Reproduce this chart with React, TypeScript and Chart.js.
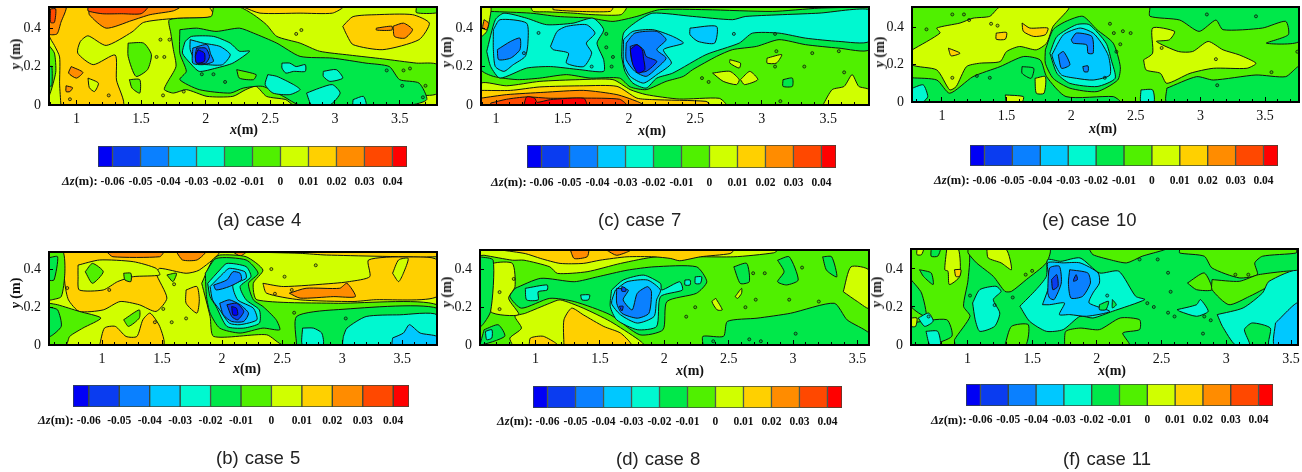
import React, { useEffect, useRef } from "react";
import { Chart, registerables } from "chart.js";

Chart.register(...registerables);

const bandEdges = [-0.0652, -0.06, -0.05, -0.04, -0.03, -0.02, -0.01, 0, 0.01, 0.02, 0.03, 0.04, 0.0452];
const bandColors = ["#0000f5", "#0a3cf0", "#0a80ff", "#00c8ff", "#00f8d0", "#00e84a", "#50f000", "#d0ff00", "#ffd000", "#ff8c00", "#ff4800", "#ff0000"];

const case4Contours: [number, number[]][] = [
  [7, [0.788, 0, 3.789, 0, 3.789, 0.51, 0.788, 0.51]],
  [8, [0.88, 0, 1.36, 0, 1.31, 0.13, 1.3, 0.26, 1.13, 0.21, 1.01, 0.27, 1.03, 0.33, 1.09, 0.36, 1.23, 0.31, 1.43, 0.38, 1.52, 0.43, 1.75, 0.45, 2.06, 0.46, 2.02, 0.51, 0.79, 0.51, 0.79, 0.36, 0.83, 0.31, 0.87, 0.25, 0.87, 0.11]],
  [9, [1.1, 0.51, 1.1, 0.47, 1.23, 0.4, 1.43, 0.44, 1.57, 0.47, 1.75, 0.49, 1.8, 0.51]],
  [10, [1.09, 0.51, 1.09, 0.49, 1.2, 0.475, 1.35, 0.475, 1.5, 0.475, 1.55, 0.51]],
  [9, [0.79, 0.51, 0.92, 0.51, 0.88, 0.43, 0.85, 0.37, 0.79, 0.37]],
  [10, [0.8, 0.5, 0.84, 0.5, 0.83, 0.43, 0.8, 0.43]],
  [9, [0.96, 0.2, 1.05, 0.17, 1, 0.14, 0.94, 0.166]],
  [9, [0.92, 0.1, 0.97, 0.09, 0.95, 0.07, 0.92, 0.07]],
  [7, [1.09, 0.14, 1.17, 0.114, 1.14, 0.07, 1.1, 0.09]],
  [6, [2.06, 0.51, 2.26, 0.51, 2.37, 0.47, 2.47, 0.418, 2.55, 0.357, 2.73, 0.322, 2.88, 0.28, 3.11, 0.26, 3.37, 0.24, 3.63, 0.218, 3.789, 0.21, 3.789, 0.06, 3.6, 0.045, 3.56, 0, 2.68, 0, 2.62, 0.028, 2.47, 0.045, 2.39, 0.097, 2.31, 0.08, 2.21, 0.045, 2.01, 0.045, 1.85, 0.08, 1.75, 0.062, 1.68, 0.08, 1.7, 0.114, 1.77, 0.2, 1.75, 0.288, 1.73, 0.374, 1.72, 0.444, 2.04, 0.46]],
  [5, [1.8, 0.392, 1.93, 0.4, 2.08, 0.383, 2.26, 0.4, 2.37, 0.374, 2.55, 0.322, 2.73, 0.253, 2.98, 0.244, 3.24, 0.218, 3.42, 0.2, 3.5, 0.132, 3.65, 0.114, 3.71, 0.028, 3.58, 0, 2.73, 0, 2.6, 0.045, 2.44, 0.097, 2.29, 0.088, 2.19, 0.062, 1.95, 0.08, 1.8, 0.132, 1.85, 0.175, 1.8, 0.27]],
  [4, [1.84, 0.33, 1.89, 0.357, 2.06, 0.357, 2.19, 0.322, 2.26, 0.28, 2.34, 0.28, 2.21, 0.218, 2.08, 0.192, 1.95, 0.175, 1.88, 0.218, 1.82, 0.27]],
  [3, [1.88, 0.34, 1.98, 0.322, 2.11, 0.305, 2.19, 0.262, 2.13, 0.21, 2.01, 0.21, 1.93, 0.218, 1.88, 0.288]],
  [2, [1.9, 0.296, 2.01, 0.314, 2.04, 0.262, 2.06, 0.227, 1.98, 0.21, 1.9, 0.218]],
  [1, [1.93, 0.296, 2, 0.296, 2.03, 0.253, 2, 0.218, 1.93, 0.218, 1.92, 0.262]],
  [0, [1.94, 0.288, 1.99, 0.27, 1.99, 0.227, 1.93, 0.218, 1.92, 0.253]],
  [4, [2.48, 0.158, 2.55, 0.149, 2.68, 0.106, 2.73, 0.08, 2.65, 0.054, 2.52, 0.062, 2.46, 0.106]],
  [4, [2.59, 0.218, 2.65, 0.218, 2.7, 0.2, 2.77, 0.21, 2.77, 0.175, 2.68, 0.175, 2.62, 0.166, 2.59, 0.192]],
  [4, [2.91, 0.175, 3.01, 0.184, 3.06, 0.14, 2.96, 0.123, 2.91, 0.149]],
  [4, [2.78, 0.062, 2.88, 0.088, 2.98, 0.106, 3.04, 0.062, 2.96, 0, 2.82, 0]],
  [4, [3.14, 0.028, 3.22, 0.045, 3.24, 0, 3.14, 0]],
  [6, [2.24, 0.184, 2.39, 0.158, 2.37, 0.132, 2.26, 0.14]],
  [8, [2.29, 0.51, 3.06, 0.51, 2.98, 0.478, 2.73, 0.478, 2.42, 0.478]],
  [8, [3.06, 0.41, 3.14, 0.46, 3.32, 0.47, 3.6, 0.47, 3.73, 0.426, 3.65, 0.34, 3.37, 0.288, 3.14, 0.314, 3.09, 0.366]],
  [9, [3.45, 0.41, 3.53, 0.426, 3.6, 0.392, 3.54, 0.348, 3.46, 0.357]],
  [9, [3.32, 0.4, 3.44, 0.41, 3.44, 0.39, 3.32, 0.39]],
  [6, [3.63, 0.51, 3.789, 0.51, 3.789, 0.48, 3.63, 0.48]],
  [6, [1.4, 0.322, 1.52, 0.322, 1.58, 0.262, 1.55, 0.184, 1.46, 0.149, 1.4, 0.253]],
  [6, [1.41, 0.132, 1.49, 0.132, 1.49, 0.062, 1.43, 0.088]],
  [6, [0.788, 0.31, 0.83, 0.27, 0.84, 0.17, 0.788, 0.05]],
  [5, [0.788, 0.2, 0.81, 0.2, 0.81, 0.1, 0.788, 0.1]],
];
const case4Islets = [1.65, 0.34, 1.72, 0.34, 1.62, 0.25, 1.68, 0.25, 2.06, 0.16, 1.97, 0.16, 2.15, 0.12, 1.83, 0.07, 2.7, 0.37, 2.74, 0.39, 3.4, 0.18, 3.53, 0.18, 3.58, 0.19, 3.52, 0.1, 3.7, 0.1, 3.68, 0.04, 1.25, 0.05, 0.95, 0.03, 1.67, 0.05];

const case5Contours: [number, number[]][] = [
  [7, [0.558, 0, 3.79, 0, 3.79, 0.49, 0.558, 0.49]],
  [8, [0.675, 0.49, 1.97, 0.49, 1.81, 0.395, 1.7, 0.378, 1.48, 0.404, 1.45, 0.378, 1.54, 0.247, 1.45, 0.177, 1.31, 0.212, 1.15, 0.229, 1.01, 0.185, 0.81, 0.177, 0.72, 0.238, 0.69, 0.325]],
  [7, [0.8, 0.421, 0.98, 0.448, 1.26, 0.439, 1.45, 0.404, 1.48, 0.369, 1.26, 0.36, 1.13, 0.334, 1.01, 0.29, 0.81, 0.29, 0.8, 0.36]],
  [6, [0.86, 0.386, 0.92, 0.43, 1.01, 0.386, 0.92, 0.325]],
  [6, [1.18, 0.378, 1.24, 0.378, 1.24, 0.334, 1.19, 0.343]],
  [6, [1.54, 0.369, 1.62, 0.378, 1.59, 0.334]],
  [9, [1.04, 0.49, 1.51, 0.49, 1.48, 0.465, 1.09, 0.465]],
  [9, [1.62, 0.49, 1.86, 0.49, 1.79, 0.448, 1.67, 0.448]],
  [9, [2.09, 0.49, 2.2, 0.49, 2.15, 0.469]],
  [8, [0.98, 0, 1.02, 0.089, 1.11, 0.098, 1.2, 0.045, 1.29, 0.045, 1.34, 0.133, 1.4, 0.168, 1.48, 0.098, 1.51, 0]],
  [8, [1.7, 0.29, 1.79, 0.308, 1.81, 0.238, 1.79, 0.168, 1.7, 0.22]],
  [6, [0.558, 0.49, 0.675, 0.49, 0.69, 0.378, 0.66, 0.255, 0.58, 0.238, 0.558, 0.238]],
  [5, [0.558, 0.46, 0.63, 0.465, 0.6, 0.343, 0.558, 0.343]],
  [6, [0.558, 0.22, 0.63, 0.212, 0.81, 0.177, 0.99, 0.142, 0.84, 0.089, 0.73, 0.045, 0.7, 0, 0.558, 0]],
  [5, [0.558, 0.2, 0.63, 0.185, 0.66, 0.098, 0.558, 0.045]],
  [6, [1.18, 0.133, 1.31, 0.185, 1.31, 0.142, 1.22, 0.098]],
  [8, [2.34, 0.325, 2.51, 0.308, 2.93, 0.325, 3.06, 0.334, 3.23, 0.36, 3.22, 0.448, 3.54, 0.465, 3.79, 0.448, 3.79, 0.255, 3.26, 0.238, 3.09, 0.229, 2.65, 0.238, 2.37, 0.273]],
  [9, [2.56, 0.273, 2.7, 0.299, 2.98, 0.299, 3.04, 0.325, 3.11, 0.255, 2.93, 0.255, 2.65, 0.247]],
  [7, [3.42, 0.378, 3.47, 0.448, 3.55, 0.456, 3.51, 0.378, 3.47, 0.334]],
  [8, [2.2, 0.49, 3.79, 0.49, 3.79, 0.465, 2.87, 0.474, 2.65, 0.483]],
  [6, [1.83, 0.325, 1.92, 0.448, 1.98, 0.474, 2.2, 0.465, 2.34, 0.395, 2.26, 0.325, 2.29, 0.238, 2.93, 0.22, 3.79, 0.212, 3.79, 0, 2.51, 0, 2.37, 0.054, 1.93, 0.045, 1.9, 0.15]],
  [5, [1.86, 0.378, 1.95, 0.456, 2.2, 0.448, 2.3, 0.378, 2.22, 0.325, 2.26, 0.238, 2.34, 0.203, 2.45, 0.133, 2.48, 0.08, 2.34, 0.089, 2.15, 0.063, 1.98, 0.089, 1.9, 0.168, 1.87, 0.255]],
  [5, [2.62, 0, 2.62, 0.15, 2.93, 0.185, 3.79, 0.194, 3.79, 0]],
  [4, [1.88, 0.325, 1.98, 0.395, 2.04, 0.43, 2.2, 0.413, 2.24, 0.36, 2.15, 0.308, 2.2, 0.238, 2.31, 0.185, 2.31, 0.115, 2.18, 0.089, 2.04, 0.098, 1.95, 0.203, 1.9, 0.255]],
  [3, [1.9, 0.308, 2.01, 0.378, 2.06, 0.404, 2.19, 0.386, 2.2, 0.351, 2.09, 0.316, 2.13, 0.238, 2.26, 0.194, 2.29, 0.133, 2.15, 0.107, 2.06, 0.115, 1.98, 0.185, 1.92, 0.238]],
  [2, [1.93, 0.316, 2.04, 0.343, 2.09, 0.386, 2.15, 0.378, 2.16, 0.343, 2.06, 0.308, 1.95, 0.29]],
  [2, [1.98, 0.22, 2.06, 0.238, 2.15, 0.212, 2.22, 0.168, 2.18, 0.124, 2.08, 0.124, 2.01, 0.159]],
  [1, [2.04, 0.212, 2.12, 0.22, 2.18, 0.177, 2.13, 0.133, 2.08, 0.15]],
  [0, [2.08, 0.203, 2.12, 0.194, 2.13, 0.159, 2.09, 0.159]],
  [4, [3.01, 0.045, 3.04, 0.089, 3.2, 0.15, 3.48, 0.159, 3.79, 0.159, 3.79, 0, 3.01, 0]],
  [3, [3.42, 0.037, 3.51, 0.063, 3.56, 0.107, 3.65, 0.063, 3.79, 0.045, 3.79, 0, 3.42, 0]],
  [4, [2.67, 0.089, 2.76, 0.089, 2.83, 0.063, 2.84, 0, 2.67, 0]],
];
const case5Islets = [0.71, 0.3, 1.06, 0.29, 1.51, 0.19, 1.44, 0.12, 1.58, 0.12, 1.7, 0.14, 2.41, 0.4, 2.52, 0.36, 2.58, 0.29, 2.44, 0.27, 3.03, 0.14, 2.6, 0.17, 2.78, 0.42, 1.6, 0.32];

const case7Contours: [number, number[]][] = [
  [6, [0.887, 0, 3.807, 0, 3.807, 0.51, 0.887, 0.51]],
  [7, [0.89, 0, 0.89, 0.114, 1.08, 0.1, 1.33, 0.123, 1.63, 0.132, 1.88, 0.132, 2.01, 0.08, 2.13, 0.054, 2.38, 0.031, 2.68, 0.035, 2.73, 0]],
  [8, [0.89, 0.076, 1.11, 0.076, 1.33, 0.094, 1.66, 0.1, 1.91, 0.097, 2.06, 0.036, 2.18, 0.028, 2.58, 0.019, 2.61, 0, 0.89, 0]],
  [9, [0.89, 0.036, 1.08, 0.054, 1.36, 0.066, 1.66, 0.076, 1.91, 0.054, 2.06, 0.019, 2.11, 0, 0.89, 0]],
  [10, [0.96, 0.01, 1.08, 0.03, 1.23, 0.042, 1.41, 0.035, 1.66, 0.036, 1.93, 0.03, 1.98, 0, 0.96, 0]],
  [11, [1.21, 0, 1.23, 0.042, 1.29, 0.036, 1.31, 0.014, 1.41, 0.028, 1.66, 0.035, 1.68, 0]],
  [5, [0.96, 0.487, 1.26, 0.478, 1.46, 0.461, 1.71, 0.452, 1.88, 0.435, 2.06, 0.461, 2.23, 0.496, 2.58, 0.496, 3.08, 0.487, 3.43, 0.504, 3.807, 0.51, 3.807, 0.288, 3.58, 0.296, 3.33, 0.314, 3.13, 0.34, 2.96, 0.305, 2.78, 0.288, 2.66, 0.253, 2.48, 0.184, 2.41, 0.149, 2.28, 0.123, 2.13, 0.08, 2.01, 0.094, 1.93, 0.14, 1.71, 0.14, 1.53, 0.158, 1.33, 0.14, 1.16, 0.132, 0.98, 0.149, 0.887, 0.184, 0.887, 0.357, 0.92, 0.374, 0.91, 0.444]],
  [7, [1.26, 0.51, 1.98, 0.51, 1.94, 0.47, 1.73, 0.47, 1.58, 0.478, 1.38, 0.485, 1.28, 0.487]],
  [8, [1.43, 0.51, 1.88, 0.51, 1.86, 0.487, 1.63, 0.487, 1.43, 0.496]],
  [7, [0.887, 0.51, 0.96, 0.51, 0.96, 0.478, 0.93, 0.383, 0.887, 0.357]],
  [9, [0.91, 0.444, 0.945, 0.426, 0.93, 0.392, 0.9, 0.4]],
  [4, [0.93, 0.279, 0.995, 0.444, 1.06, 0.478, 1.23, 0.452, 1.38, 0.418, 1.58, 0.426, 1.73, 0.452, 1.81, 0.392, 1.76, 0.322, 1.81, 0.236, 1.81, 0.175, 1.63, 0.184, 1.41, 0.2, 1.23, 0.192, 1.03, 0.14, 0.96, 0.2]],
  [4, [1.945, 0.253, 1.96, 0.374, 2.06, 0.435, 2.18, 0.478, 2.48, 0.461, 2.78, 0.444, 2.88, 0.461, 3.43, 0.478, 3.807, 0.496, 3.807, 0.331, 3.58, 0.331, 3.33, 0.348, 3.13, 0.374, 2.93, 0.374, 2.83, 0.322, 2.58, 0.262, 2.33, 0.166, 2.21, 0.14, 2.13, 0.088, 2.03, 0.114, 1.97, 0.175]],
  [3, [0.98, 0.392, 1.03, 0.444, 1.23, 0.426, 1.24, 0.322, 1.22, 0.253, 1.13, 0.21, 1.06, 0.175, 0.995, 0.2, 0.98, 0.288]],
  [3, [1.41, 0.305, 1.46, 0.383, 1.53, 0.409, 1.68, 0.418, 1.745, 0.374, 1.68, 0.322, 1.72, 0.27, 1.66, 0.2, 1.53, 0.218, 1.545, 0.27, 1.43, 0.288]],
  [3, [1.96, 0.34, 2.03, 0.383, 2.18, 0.392, 2.33, 0.357, 2.41, 0.322, 2.26, 0.288, 2.32, 0.218, 2.21, 0.158, 2.11, 0.114, 2.01, 0.149, 1.96, 0.218]],
  [3, [2.46, 0.4, 2.66, 0.409, 2.645, 0.322, 2.52, 0.331, 2.46, 0.366]],
  [2, [1.01, 0.288, 1.11, 0.331, 1.18, 0.348, 1.18, 0.288, 1.11, 0.244, 1.02, 0.236]],
  [2, [1.98, 0.322, 2.045, 0.374, 2.21, 0.383, 2.28, 0.34, 2.21, 0.288, 2.28, 0.244, 2.21, 0.192, 2.13, 0.149, 2.045, 0.175, 1.98, 0.236]],
  [1, [2.01, 0.305, 2.06, 0.314, 2.11, 0.288, 2.13, 0.253, 2.21, 0.227, 2.13, 0.175, 2.06, 0.175, 2.02, 0.236]],
  [0, [2.01, 0.288, 2.06, 0.314, 2.1, 0.288, 2.11, 0.244, 2.12, 0.184, 2.07, 0.166, 2.03, 0.21]],
  [7, [2.76, 0.236, 2.84, 0.218, 2.83, 0.192, 2.76, 0.218]],
  [7, [2.63, 0.166, 2.76, 0.175, 2.83, 0.132, 2.81, 0.106, 2.71, 0.123]],
  [7, [2.84, 0.132, 2.91, 0.175, 2.97, 0.132, 2.87, 0.106]],
  [7, [3.04, 0.244, 3.15, 0.262, 3.11, 0.218, 3.04, 0.218]],
  [5, [3.16, 0.132, 3.23, 0.14, 3.23, 0.097, 3.16, 0.097]],
  [7, [3.46, 0, 3.53, 0.08, 3.62, 0.097, 3.68, 0.158, 3.73, 0.097, 3.807, 0.08, 3.807, 0]],
];
const case7Islets = [1.32, 0.375, 1.83, 0.37, 1.88, 0.25, 1.87, 0.2, 2.79, 0.37, 3.1, 0.37, 3.11, 0.28, 3.38, 0.27, 3.58, 0.28, 3.32, 0.2, 3.62, 0.17, 2.55, 0.14, 2.6, 0.12, 3.1, 0.2, 1.21, 0.27, 1.72, 0.2, 1.83, 0.3, 3.14, 0.02];

const case8Contours: [number, number[]][] = [
  [6, [0.568, 0, 3.59, 0, 3.59, 0.503, 0.568, 0.503]],
  [7, [0.568, 0.503, 2.88, 0.503, 2.85, 0.488, 2.54, 0.467, 1.94, 0.467, 1.66, 0.432, 1.4, 0.388, 1.17, 0.379, 1.11, 0.414, 0.91, 0.449, 0.82, 0.449, 0.6, 0.475, 0.568, 0.475]],
  [8, [0.73, 0.503, 2.54, 0.503, 2.51, 0.484, 2.28, 0.467, 2.12, 0.446, 2.05, 0.458, 1.92, 0.467, 1.71, 0.467, 1.5, 0.449, 1.37, 0.432, 1.19, 0.432, 1.04, 0.458, 0.92, 0.484]],
  [9, [1.27, 0.503, 1.41, 0.503, 1.4, 0.467, 1.3, 0.458]],
  [9, [1.55, 0.503, 1.74, 0.503, 1.63, 0.475]],
  [7, [0.63, 0.379, 0.67, 0.432, 0.82, 0.432, 0.84, 0.309, 0.79, 0.247, 0.87, 0.16, 0.65, 0.177]],
  [5, [0.568, 0.467, 0.67, 0.449, 0.65, 0.177, 0.568, 0.098]],
  [7, [0.82, 0, 0.8, 0.037, 0.89, 0.089, 0.84, 0.151, 0.92, 0.168, 1.11, 0.221, 1.19, 0.239, 1.37, 0.195, 1.58, 0.125, 1.8, 0.028, 1.84, 0]],
  [8, [1.22, 0, 1.22, 0.133, 1.28, 0.195, 1.37, 0.16, 1.53, 0.098, 1.66, 0.063, 1.74, 0]],
  [8, [0.95, 0, 0.96, 0.037, 1.06, 0.046, 1.17, 0]],
  [5, [0.84, 0.3, 1.04, 0.353, 1.3, 0.335, 1.48, 0.361, 1.71, 0.396, 1.92, 0.414, 2.25, 0.414, 2.33, 0.335, 2.25, 0.274, 2.02, 0.23, 1.99, 0.081, 1.81, 0.054, 1.58, 0.16, 1.3, 0.23, 1.11, 0.247, 0.89, 0.195, 0.8, 0.256]],
  [5, [2.3, 0, 2.3, 0.046, 2.46, 0.046, 2.49, 0.125, 2.72, 0.142, 2.98, 0.168, 3.32, 0.221, 3.42, 0.133, 3.59, 0.063, 3.59, 0]],
  [4, [1.59, 0.291, 1.68, 0.344, 1.84, 0.37, 1.97, 0.326, 1.98, 0.291, 2.12, 0.335, 2.14, 0.291, 1.97, 0.256, 1.94, 0.098, 1.79, 0.081, 1.63, 0.133, 1.58, 0.204]],
  [3, [1.62, 0.291, 1.71, 0.335, 1.87, 0.344, 1.97, 0.291, 1.94, 0.239, 1.92, 0.151, 1.79, 0.116, 1.66, 0.16, 1.59, 0.221]],
  [2, [1.63, 0.3, 1.72, 0.291, 1.68, 0.239, 1.75, 0.186, 1.79, 0.274, 1.87, 0.309, 1.9, 0.282, 1.88, 0.168, 1.79, 0.142, 1.67, 0.168, 1.63, 0.221]],
  [1, [1.67, 0.31, 1.7, 0.3, 1.7, 0.285, 1.67, 0.285]],
  [1, [1.65, 0.205, 1.68, 0.205, 1.67, 0.18]],
  [4, [0.92, 0.3, 1.09, 0.318, 1.09, 0.291, 1.02, 0.282, 1.02, 0.239, 0.93, 0.239]],
  [4, [1.35, 0.265, 1.42, 0.265, 1.41, 0.239, 1.36, 0.239]],
  [4, [2.16, 0.344, 2.2, 0.344, 2.2, 0.318, 2.16, 0.318]],
  [4, [2.24, 0.361, 2.29, 0.361, 2.28, 0.326, 2.24, 0.326]],
  [7, [3.39, 0.282, 3.45, 0.414, 3.59, 0.396, 3.59, 0.195, 3.5, 0.23]],
  [5, [2.54, 0.414, 2.64, 0.432, 2.66, 0.335, 2.59, 0.326]],
  [5, [2.88, 0.449, 2.97, 0.467, 3.04, 0.344, 2.95, 0.318, 2.88, 0.335, 2.93, 0.388]],
  [5, [3.23, 0.467, 3.3, 0.467, 3.34, 0.361, 3.26, 0.396]],
  [7, [2.4, 0.247, 2.45, 0.186, 2.41, 0.186, 2.37, 0.23]],
  [7, [2.55, 0.256, 2.6, 0.3, 2.6, 0.274, 2.57, 0.247]],
  [5, [0.6, 0.081, 0.71, 0.107, 0.76, 0.046, 0.568, 0]],
  [4, [0.61, 0.072, 0.66, 0.081, 0.66, 0.037, 0.62, 0.028]],
];
const case8Islets = [0.72, 0.28, 0.72, 0.19, 0.83, 0.35, 3.07, 0.41, 2.69, 0.38, 2.78, 0.38, 2.97, 0.24, 2.71, 0.24, 2.63, 0.2, 2.24, 0.2, 2.17, 0.15, 3.2, 0.23, 2.38, 0.02, 2.66, 0.03, 2.75, 0.02, 3.02, 0.06];

const case10Contours: [number, number[]][] = [
  [6, [0.768, 0, 3.763, 0, 3.763, 0.51, 0.768, 0.51]],
  [7, [0.77, 0.28, 0.985, 0.37, 0.96, 0.397, 1.14, 0.424, 1.24, 0.45, 1.37, 0.46, 1.45, 0.51, 1.98, 0.51, 1.86, 0.406, 1.81, 0.316, 1.73, 0.28, 1.6, 0.298, 1.5, 0.271, 1.45, 0.217, 1.29, 0.208, 1.19, 0.19, 1.11, 0.083, 1.06, 0.065, 0.96, 0.172, 0.77, 0.2]],
  [7, [2.56, 0.226, 2.63, 0.262, 2.63, 0.397, 2.8, 0.379, 2.76, 0.334, 2.66, 0.325, 2.83, 0.271, 2.94, 0.271, 3.06, 0.325, 3.175, 0.28, 3.3, 0.253, 3.43, 0.208, 3.36, 0.181, 3.1, 0.181, 2.92, 0.154, 2.74, 0.1, 2.69, 0.154, 2.58, 0.172]],
  [5, [2.61, 0.51, 3.763, 0.51, 3.763, 0.325, 3.51, 0.316, 3.68, 0.361, 3.66, 0.433, 3.48, 0.397, 3.175, 0.388, 3.12, 0.44, 2.99, 0.379, 2.84, 0.44, 2.61, 0.46]],
  [5, [2.74, 0.074, 2.97, 0.136, 3.1, 0.118, 3.43, 0.145, 3.66, 0.136, 3.763, 0.19, 3.763, 0, 2.74, 0]],
  [5, [0.77, 0.13, 0.96, 0.118, 1.06, 0.047, 1.24, 0.136, 1.45, 0.19, 1.63, 0.244, 1.76, 0.226, 1.81, 0.136, 1.96, 0.029, 2.325, 0.029, 2.38, 0, 0.77, 0]],
  [5, [1.8, 0.28, 1.86, 0.388, 1.96, 0.433, 2.09, 0.46, 2.2, 0.388, 2.325, 0.316, 2.38, 0.19, 2.36, 0.118, 2.2, 0.056, 1.99, 0.074, 1.86, 0.127, 1.8, 0.208]],
  [4, [1.835, 0.262, 1.89, 0.352, 2.04, 0.415, 2.14, 0.415, 2.27, 0.316, 2.31, 0.226, 2.34, 0.127, 2.2, 0.083, 1.99, 0.1, 1.89, 0.154]],
  [3, [1.85, 0.253, 1.94, 0.361, 2.07, 0.397, 2.17, 0.37, 2.235, 0.316, 2.29, 0.244, 2.3, 0.145, 2.17, 0.118, 2.04, 0.127, 1.925, 0.145, 1.87, 0.208]],
  [2, [2, 0.334, 2.04, 0.37, 2.16, 0.352, 2.17, 0.262, 2.13, 0.262, 2.12, 0.307, 2.015, 0.316]],
  [2, [1.9, 0.253, 1.94, 0.271, 1.99, 0.2, 1.925, 0.181]],
  [2, [2.09, 0.19, 2.13, 0.194, 2.13, 0.163, 2.1, 0.163]],
  [4, [0.77, 0.074, 0.855, 0.092, 0.89, 0.029, 0.855, 0.002, 0.77, 0]],
  [4, [2.54, 0.065, 2.63, 0.065, 2.64, 0, 2.54, 0]],
  [8, [1.62, 0.424, 1.68, 0.397, 1.82, 0.397, 1.8, 0.361, 1.71, 0.352, 1.63, 0.379]],
  [8, [1.42, 0.37, 1.5, 0.373, 1.49, 0.337, 1.42, 0.337]],
  [8, [1.05, 0.289, 1.14, 0.262, 1.07, 0.248]],
  [7, [1.72, 0.127, 1.8, 0.136, 1.79, 0.047, 1.73, 0.047]],
  [7, [1.49, 0.038, 1.63, 0.029, 1.62, 0, 1.5, 0]],
  [5, [1.62, 0.19, 1.71, 0.181, 1.69, 0.127, 1.62, 0.154]],
];
const case10Islets = [1.17, 0.47, 1.38, 0.42, 1.43, 0.41, 1.21, 0.44, 0.88, 0.39, 1.08, 0.13, 1.27, 0.14, 1.37, 0.13, 2.4, 0.38, 2.33, 0.37, 2.46, 0.37, 2.38, 0.31, 2.35, 0.27, 2.7, 0.29, 3.12, 0.23, 3.75, 0.27, 3.55, 0.16, 3.13, 0.09, 2.26, 0.13, 2.3, 0.42, 3.05, 0.47, 3.43, 0.46, 1.08, 0.47];

const case11Contours: [number, number[]][] = [
  [5, [0.564, 0, 3.554, 0, 3.554, 0.505, 0.564, 0.505]],
  [6, [0.564, 0.505, 1, 0.505, 1.005, 0.344, 0.97, 0.204, 1.02, 0.151, 0.9, 0.028, 0.9, 0, 0.564, 0]],
  [5, [0.564, 0.344, 0.645, 0.274, 0.68, 0.151, 0.564, 0.204]],
  [5, [0.63, 0.396, 0.72, 0.379, 0.735, 0.318, 0.66, 0.361]],
  [5, [0.72, 0.505, 0.79, 0.505, 0.77, 0.467, 0.72, 0.467]],
  [5, [0.564, 0.116, 0.84, 0.133, 0.88, 0.046, 0.71, 0, 0.564, 0]],
  [6, [1.005, 0.505, 1.635, 0.505, 1.61, 0.432, 1.455, 0.344, 1.34, 0.282, 1.29, 0.282, 1.2, 0.361, 1.07, 0.432, 1.005, 0.484]],
  [7, [1.15, 0.502, 1.3, 0.502, 1.34, 0.396, 1.26, 0.432, 1.16, 0.458]],
  [7, [0.84, 0.505, 0.93, 0.505, 0.94, 0.361, 0.86, 0.318, 0.85, 0.388, 0.825, 0.396]],
  [8, [0.9, 0.396, 0.95, 0.396, 0.94, 0.361, 0.91, 0.361]],
  [7, [0.564, 0.142, 0.61, 0.142, 0.6, 0.098, 0.564, 0.098]],
  [7, [0.61, 0.505, 0.66, 0.505, 0.645, 0.475, 0.61, 0.475]],
  [6, [1.94, 0.505, 2.53, 0.505, 2.35, 0.467, 2.23, 0.432, 2.1, 0.449, 1.97, 0.475]],
  [6, [2.64, 0.505, 3.54, 0.505, 3.54, 0.484, 3.28, 0.467, 3.22, 0.432, 3.24, 0.37, 3.1, 0.353, 2.89, 0.405, 2.83, 0.467, 2.64, 0.484]],
  [6, [2.7, 0.326, 2.83, 0.379, 2.89, 0.291, 2.77, 0.291]],
  [6, [2.89, 0.344, 3.1, 0.335, 3.25, 0.37, 3.54, 0.388, 3.28, 0.291, 3.18, 0.256, 3.02, 0.212, 2.89, 0.291]],
  [6, [1.75, 0, 1.76, 0.072, 1.87, 0.089, 2.02, 0.081, 2.18, 0.142, 2.33, 0.133, 2.33, 0.081, 2.2, 0.063, 2.25, 0]],
  [6, [1.29, 0, 1.34, 0.098, 1.47, 0.107, 1.45, 0]],
  [4, [1.405, 0.204, 1.53, 0.291, 1.61, 0.361, 1.62, 0.449, 1.72, 0.44, 1.87, 0.458, 2.02, 0.379, 2.17, 0.388, 2.3, 0.256, 2.37, 0.239, 2.12, 0.177, 1.97, 0.142, 1.87, 0.151, 1.74, 0.081, 1.61, 0.072, 1.48, 0.125]],
  [4, [1.04, 0.221, 1.095, 0.291, 1.22, 0.309, 1.26, 0.282, 1.2, 0.239, 1.25, 0.168, 1.21, 0.098, 1.095, 0.072, 1.06, 0.133]],
  [4, [2.62, 0.186, 2.77, 0.212, 2.8, 0.239, 2.86, 0.177, 2.77, 0.151, 2.64, 0.177]],
  [4, [2.93, 0.16, 3.13, 0.195, 3.28, 0.274, 3.33, 0.335, 3.554, 0.388, 3.554, 0, 3.33, 0, 3.34, 0.089, 3.2, 0.116, 3.14, 0.081, 3.18, 0, 3.07, 0, 2.97, 0.098]],
  [4, [0.62, 0.142, 0.7, 0.168, 0.735, 0.125, 0.67, 0.098]],
  [4, [0.68, 0.072, 0.77, 0.072, 0.79, 0, 0.71, 0]],
  [3, [1.58, 0.212, 1.635, 0.326, 1.62, 0.432, 1.74, 0.432, 1.87, 0.432, 2.01, 0.379, 2.02, 0.326, 1.97, 0.274, 1.94, 0.221, 2.1, 0.177, 1.92, 0.151, 1.79, 0.16, 1.71, 0.16, 1.75, 0.221, 1.635, 0.212]],
  [3, [3.38, 0.116, 3.554, 0.221, 3.554, 0, 3.37, 0]],
  [2, [1.62, 0.274, 1.635, 0.405, 1.71, 0.414, 1.725, 0.326, 1.67, 0.239, 1.635, 0.247]],
  [2, [1.79, 0.396, 1.93, 0.379, 1.95, 0.326, 1.89, 0.256, 1.8, 0.247, 1.78, 0.326]],
  [1, [1.65, 0.344, 1.69, 0.37, 1.7, 0.309, 1.66, 0.291]],
  [1, [1.82, 0.344, 1.84, 0.37, 1.85, 0.344, 1.82, 0.335]],
  [5, [2.02, 0.212, 2.09, 0.23, 2.07, 0.186, 2.02, 0.186]],
  [5, [2.12, 0.239, 2.15, 0.212, 2.12, 0.195]],
];
const case11Islets = [0.7, 0.15, 1.35, 0.25, 1.21, 0.21, 1.5, 0.39, 1.45, 0.37, 2.33, 0.45, 2.47, 0.45, 2.55, 0.38, 2.57, 0.28, 2.44, 0.2, 2.39, 0.22, 2.55, 0.17, 2.6, 0.15, 2.83, 0.15, 2.88, 0.13, 2.82, 0.06, 3.17, 0.37, 3.07, 0.37, 2.08, 0.26, 1.02, 0.26];

const axisFont = "'Liberation Serif'";

function toPoints(flat: number[]) {
  const out: { x: number; y: number }[] = [];
  for (let i = 0; i < flat.length; i += 2) out.push({ x: flat[i], y: flat[i + 1] });
  return out;
}
function closed(flat: number[]) {
  const p = toPoints(flat);
  p.push(p[0]);
  return p;
}
const shortNum = (v: number) => String(Math.round(v * 10) / 10);
const barNum = (v: number) => {
  const r = Math.round(v * 100);
  return r === 0 ? "0" : (r / 100).toFixed(2);
};

const framePlugin = {
  id: "frame",
  afterDraw(chart: any) {
    const { ctx, chartArea: a } = chart;
    ctx.save();
    ctx.strokeStyle = "#000";
    ctx.lineWidth = 2;
    ctx.strokeRect(a.left, a.top, a.right - a.left, a.bottom - a.top);
    ctx.restore();
  },
};

const LEFT = 45, TOPP = 4, RIGHTP = 4, BOTTOM = 28;

function noPad(s: any) {
  s.paddingTop = 0;
  s.paddingBottom = 0;
  s.paddingLeft = 0;
  s.paddingRight = 0;
}

function Plot({ p }: { p: any }) {
  const ref = useRef<HTMLCanvasElement>(null);
  useEffect(() => {
    const layers = p.layers as [number, number[]][];
    const datasets: any[] = layers.map(([level, flat], i) => ({
      data: closed(flat),
      showLine: true,
      fill: "shape",
      backgroundColor: bandColors[level],
      borderColor: "#101510",
      borderWidth: i === 0 ? 0 : 1,
      tension: i === 0 ? 0 : 0.22,
      pointRadius: 0,
      order: layers.length - i,
    }));
    datasets.push({
      data: toPoints(p.islets),
      showLine: false,
      pointRadius: 1.5,
      pointBackgroundColor: "rgba(0,0,0,0.15)",
      pointBorderColor: "#101510",
      pointBorderWidth: 0.8,
      order: 0,
    });
    const chart = new Chart(ref.current!, {
      type: "scatter",
      data: { datasets },
      plugins: [framePlugin],
      options: {
        animation: false,
        responsive: false,
        events: [],
        layout: { autoPadding: false, padding: { left: 0, right: RIGHTP, top: TOPP, bottom: 0 } },
        plugins: { legend: { display: false }, tooltip: { enabled: false } },
        scales: {
          x: {
            type: "linear", position: "bottom", min: p.xMin, max: p.xMax,
            border: { display: false },
            grid: { drawOnChartArea: false, tickLength: -5, color: "#000", z: 1 },
            ticks: { stepSize: 0.5, includeBounds: false, padding: 11, maxRotation: 0, autoSkip: false, color: "#111", font: { family: axisFont, size: 14 }, callback: (v: any) => shortNum(Number(v)) },
            afterFit: (s: any) => { s.height = BOTTOM; noPad(s); },
          },
          xMinor: {
            type: "linear", position: "bottom", min: p.xMin, max: p.xMax, weight: -1,
            border: { display: false },
            grid: { drawOnChartArea: false, tickLength: -3, color: "#000", z: 1 },
            ticks: { stepSize: 0.1, includeBounds: false, display: false },
            afterFit: (s: any) => { s.height = 0; noPad(s); },
          },
          y: {
            type: "linear", position: "left", min: 0, max: p.yMax,
            border: { display: false },
            grid: { drawOnChartArea: false, tickLength: -4, color: "#000", z: 1 },
            ticks: { stepSize: 0.2, includeBounds: false, padding: 12, color: "#111", font: { family: axisFont, size: 14 }, callback: (v: any) => shortNum(Number(v)) },
            afterFit: (s: any) => { s.width = LEFT; noPad(s); },
          },
        },
      } as any,
    } as any);
    return () => chart.destroy();
  }, [p]);
  return (
    <canvas
      ref={ref}
      width={p.right - p.left + LEFT + RIGHTP}
      height={p.bottom - p.top + TOPP + BOTTOM}
      style={{ position: "absolute", left: p.left - LEFT, top: p.top - TOPP, filter: "blur(0.4px)" }}
    />
  );
}

const BAR_BELOW = 26, BAR_SIDE = 20;

function ColorBar({ p }: { p: any }) {
  const ref = useRef<HTMLCanvasElement>(null);
  useEffect(() => {
    const datasets = bandColors.map((c, i) => ({
      data: [[bandEdges[i], bandEdges[i + 1]]],
      backgroundColor: c,
      borderColor: "#3a4a3a",
      borderWidth: 1,
      borderSkipped: false,
      grouped: false,
      barPercentage: 1,
      categoryPercentage: 1,
    }));
    const chart = new Chart(ref.current!, {
      type: "bar",
      data: { labels: ["Δz"], datasets },
      options: {
        indexAxis: "y",
        animation: false,
        responsive: false,
        events: [],
        layout: { autoPadding: false, padding: { left: BAR_SIDE, right: BAR_SIDE, top: 0, bottom: 0 } },
        plugins: { legend: { display: false }, tooltip: { enabled: false } },
        scales: {
          y: { display: false },
          x: {
            type: "linear", min: bandEdges[0], max: bandEdges[bandEdges.length - 1],
            border: { display: false },
            grid: { display: false, drawTicks: false },
            ticks: { stepSize: 0.01, includeBounds: false, padding: p.tickPad, maxRotation: 0, autoSkip: false, color: "#111", font: { family: axisFont, size: 11.5, weight: "bold" }, callback: (v: any) => barNum(Number(v)) },
            afterFit: (s: any) => { s.height = BAR_BELOW; noPad(s); },
          },
        },
      } as any,
    } as any);
    return () => chart.destroy();
  }, [p]);
  return (
    <canvas
      ref={ref}
      width={p.barRight - p.barLeft + BAR_SIDE * 2}
      height={p.barBottom - p.barTop + BAR_BELOW}
      style={{ position: "absolute", left: p.barLeft - BAR_SIDE, top: p.barTop, filter: "blur(0.3px)" }}
    />
  );
}

const panels: any[] = [
  { caption: "(a) case 4", layers: case4Contours, islets: case4Islets, left: 49, right: 437, top: 7, bottom: 105, xMin: 0.788, xMax: 3.789, yMax: 0.51, xt: [244, 130], yt: [16, 54], barLeft: 98, barRight: 407, barTop: 146, barBottom: 167, tickPad: 8, dz: [62, 181], cap: [217, 220] },
  { caption: "(c) case 7", layers: case7Contours, islets: case7Islets, left: 481, right: 869, top: 7, bottom: 105, xMin: 0.887, xMax: 3.807, yMax: 0.51, xt: [652, 131], yt: [447, 52], barLeft: 527, barRight: 836, barTop: 145, barBottom: 168, tickPad: 8, dz: [491, 182], cap: [598, 220] },
  { caption: "(e) case 10", layers: case10Contours, islets: case10Islets, left: 912, right: 1299, top: 7, bottom: 102, xMin: 0.768, xMax: 3.763, yMax: 0.51, xt: [1103, 129], yt: [880, 52], barLeft: 970, barRight: 1278, barTop: 145, barBottom: 166, tickPad: 8, dz: [934, 180], cap: [1042, 220] },
  { caption: "(b) case 5", layers: case5Contours, islets: case5Islets, left: 49, right: 437, top: 252, bottom: 345, xMin: 0.558, xMax: 3.79, yMax: 0.49, xt: [247, 369], yt: [16, 293], barLeft: 73, barRight: 409, barTop: 385, barBottom: 407, tickPad: 7, dz: [38, 420], cap: [216, 458] },
  { caption: "(d) case 8", layers: case8Contours, islets: case8Islets, left: 480, right: 869, top: 250, bottom: 345, xMin: 0.568, xMax: 3.59, yMax: 0.503, xt: [690, 371], yt: [447, 292], barLeft: 533, barRight: 842, barTop: 386, barBottom: 408, tickPad: 7, dz: [497, 421], cap: [616, 459] },
  { caption: "(f) case 11", layers: case11Contours, islets: case11Islets, left: 911, right: 1298, top: 249, bottom: 345, xMin: 0.564, xMax: 3.554, yMax: 0.505, xt: [1112, 371], yt: [877, 292], barLeft: 966, barRight: 1273, barTop: 384, barBottom: 406, tickPad: 7, dz: [931, 420], cap: [1063, 459] },
];

const serifBold: React.CSSProperties = { position: "absolute", fontFamily: axisFont, fontWeight: "bold", color: "#111", whiteSpace: "nowrap", lineHeight: 1 };

export default function App() {
  return (
    <div style={{ position: "absolute", left: 0, top: 0, width: 1302, height: 472, background: "#fff", overflow: "hidden" }}>
      {panels.map((p) => (
        <React.Fragment key={p.caption}>
          <Plot p={p} />
          <ColorBar p={p} />
          <div style={{ ...serifBold, fontSize: 14, left: p.xt[0], top: p.xt[1], transform: "translate(-50%,-50%)" }}>
            <i>x</i>(m)
          </div>
          <div style={{ ...serifBold, fontSize: 14, left: p.yt[0], top: p.yt[1], transform: "translate(-50%,-50%) rotate(-90deg)" }}>
            <i>y</i> (m)
          </div>
          <div style={{ ...serifBold, fontSize: 12.5, left: p.dz[0], top: p.dz[1], transform: "translateY(-50%)" }}>
            <i>Δz</i>(m):
          </div>
          <div style={{ position: "absolute", left: p.cap[0], top: p.cap[1], transform: "translateY(-50%)", fontFamily: "'Liberation Sans'", fontSize: 18.5, color: "#222", whiteSpace: "nowrap", wordSpacing: 1 }}>
            {p.caption}
          </div>
        </React.Fragment>
      ))}
    </div>
  );
}
